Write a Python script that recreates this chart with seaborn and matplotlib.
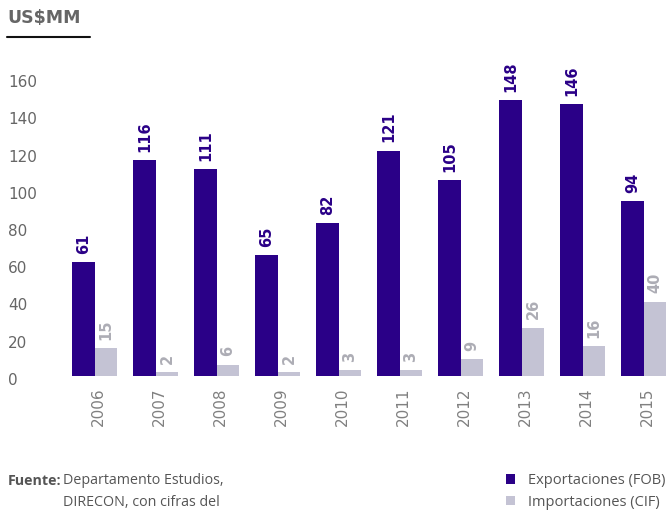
import numpy as np
import pandas as pd
import matplotlib
matplotlib.use('Agg')
import matplotlib.pyplot as plt
import matplotlib.transforms as mtransforms
import seaborn as sns

# data (US$MM)
years = ['2006', '2007', '2008', '2009', '2010', '2011', '2012', '2013', '2014', '2015']
exportaciones = [61, 116, 111, 65, 82, 121, 105, 148, 146, 94]
importaciones = [15, 2, 6, 2, 3, 3, 9, 26, 16, 40]
series = ['Exportaciones (FOB)', 'Importaciones (CIF)']
colors = ['#2A0087', '#C4C3D4']
label_colors = ['#2A0087', '#ADADB5']

df = pd.DataFrame({
    'year': years * 2,
    'value': exportaciones + importaciones,
    'serie': [series[0]] * len(years) + [series[1]] * len(years),
})

sns.set_style('white')
plt.rcParams['font.family'] = ['DejaVu Sans']

fig = plt.figure(figsize=(6.67, 5.17), dpi=100)
W, H = 667, 517
ax = fig.add_axes([64.2 / W, (H - 376) / H, (W - 64.2) / W, (376 - 78) / H])

sns.barplot(data=df, x='year', y='value', hue='serie', palette=colors,
            width=0.745, saturation=1, linewidth=0, ax=ax, legend=True)

ax.set_xlim(-0.5, 9.5 - (674.2 - 667) / 61)
ax.set_ylim(0, 160)
ax.set_yticks(range(0, 161, 20))
ax.set_xlabel('')
ax.set_ylabel('')
sns.despine(ax=ax, left=True, bottom=True)

# value labels on top of each bar
for cont, c in zip(ax.containers, label_colors):
    ax.bar_label(cont, rotation=90, padding=6, color=c, fontsize=10.5,
                 fontweight='bold')

ax.tick_params(axis='x', length=0, pad=8.5, labelsize=11, labelcolor='#808080',
               labelrotation=90)
ax.tick_params(axis='y', length=0, pad=40.5, labelsize=11, labelcolor='#666666')
yshift = mtransforms.ScaledTranslation(0, -3 / 100, fig.dpi_scale_trans)
for lbl in ax.get_yticklabels():
    lbl.set_horizontalalignment('left')
    lbl.set_transform(lbl.get_transform() + yshift)
xshift = mtransforms.ScaledTranslation(4 / 100, 0, fig.dpi_scale_trans)
for lbl in ax.get_xticklabels():
    lbl.set_transform(lbl.get_transform() + xshift)

# legend at the bottom right
ax.legend(loc='upper left', bbox_to_anchor=(506 / W, 1 - 473 / H),
          bbox_transform=fig.transFigure, frameon=False,
          prop={'family': 'Open Sans', 'size': 10.5},
          handlelength=0.62, handleheight=0.62, handletextpad=0.9,
          borderpad=0, borderaxespad=0, labelspacing=0.45,
          labelcolor='#555555')

# unit title with rule below it
fig.text(7 / W, 1 - 18 / H, 'US$MM', fontsize=12.5, fontweight='bold',
         color='#666666', va='center', ha='left')
fig.add_artist(plt.Line2D([7 / W, 90 / W], [1 - 37 / H, 1 - 37 / H],
                          color='#111111', lw=1.5))

# source note
fig.text(61 / W, 1 - 481 / H, 'Fuente:', fontsize=10.3, color='#555555',
         family='Open Sans', fontweight='bold', va='center', ha='right')
fig.text(63 / W, 1 - 481 / H, 'Departamento Estudios,', fontsize=10.3,
         family='Open Sans', color='#555555', va='center', ha='left')
fig.text(63 / W, 1 - 503 / H, 'DIRECON, con cifras del', fontsize=10.3,
         family='Open Sans', color='#555555', va='center', ha='left')

fig.savefig('out.png', dpi=100)
